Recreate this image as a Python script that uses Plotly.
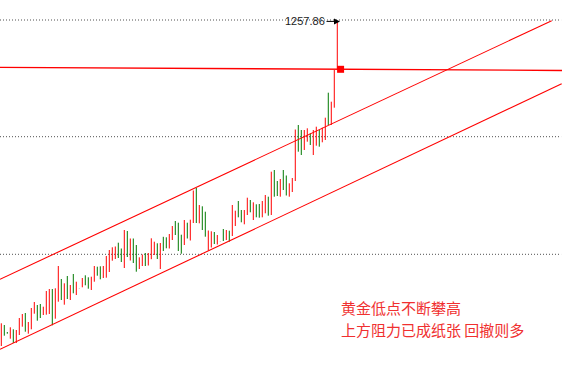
import plotly.graph_objects as go

# ---- data (gold price bars, high / low / bar colour) ----
highs = [1227.67, 1227.50, 1226.80, 1227.27, 1227.07, 1227.00, 1228.20, 1228.60, 1228.70, 1227.80,
         1229.20, 1229.80, 1229.50, 1229.60, 1229.33, 1230.90, 1231.10, 1231.10, 1231.17, 1233.40,
         1232.10, 1231.67, 1232.40, 1231.50, 1232.60, 1231.83, 1231.20, 1232.20, 1232.47, 1232.27,
         1232.33, 1233.40, 1233.33, 1233.37, 1233.40, 1234.40, 1235.00, 1235.27, 1235.35, 1235.73,
         1235.15, 1237.00, 1236.90, 1236.15, 1236.15, 1235.50, 1234.27, 1234.55, 1234.70, 1234.70,
         1236.17, 1235.83, 1235.67, 1235.70, 1236.32, 1236.27, 1236.60, 1237.40, 1237.90, 1237.73,
         1236.53, 1238.00, 1237.73, 1238.03, 1240.95, 1241.20, 1239.50, 1239.37, 1238.83, 1236.95,
         1236.87, 1236.80, 1236.50, 1235.87, 1237.10, 1237.00, 1236.93, 1239.50, 1238.93, 1239.90,
         1239.00, 1239.00, 1240.23, 1240.00, 1239.77, 1239.57, 1239.60, 1239.90, 1240.50, 1240.33,
         1242.83, 1243.00, 1241.90, 1242.10, 1243.00, 1242.45, 1241.67, 1242.20, 1247.05, 1247.50,
         1247.00, 1247.00, 1247.17, 1246.67, 1247.00, 1247.33, 1247.00, 1247.23, 1248.23, 1250.73,
         1249.83, 1253.00, 1257.86]
lows = [1225.40, 1226.43, 1226.63, 1226.13, 1225.70, 1225.70, 1226.50, 1227.33, 1226.83, 1226.63,
        1227.07, 1228.63, 1227.93, 1228.20, 1228.50, 1228.53, 1228.60, 1227.47, 1228.13, 1229.83,
        1230.00, 1229.53, 1230.10, 1230.00, 1230.67, 1230.50, 1231.14, 1231.27, 1231.47, 1231.13,
        1231.00, 1231.83, 1232.43, 1232.07, 1232.20, 1232.23, 1232.80, 1233.93, 1234.10, 1234.20,
        1233.80, 1233.20, 1234.30, 1233.95, 1233.70, 1232.83, 1233.10, 1233.40, 1233.40, 1233.45,
        1234.08, 1234.50, 1234.10, 1233.10, 1234.90, 1235.17, 1235.15, 1236.00, 1236.50, 1234.90,
        1234.63, 1235.50, 1236.15, 1235.95, 1237.70, 1237.70, 1237.67, 1237.00, 1236.33, 1234.95,
        1235.25, 1235.60, 1235.55, 1235.80, 1235.90, 1236.00, 1235.83, 1236.40, 1237.40, 1238.27,
        1237.77, 1237.57, 1238.50, 1238.77, 1238.00, 1238.27, 1238.23, 1238.27, 1238.67, 1238.43,
        1238.50, 1240.33, 1240.40, 1240.33, 1241.00, 1240.45, 1240.33, 1240.80, 1241.90, 1244.83,
        1244.50, 1245.00, 1245.83, 1245.50, 1244.50, 1245.43, 1245.33, 1245.77, 1246.00, 1247.50,
        1247.50, 1249.23, 1253.00]
colors = list("RGGRGRRRGR" "RRGGRRRGRR" "GRGRGRNRGG" "RRGGRRRRRG" "GRGRGGRRGR"
              "RRGRGGRRGG" "GRGRRGRGGR" "RGRNGRGRRG" "GRRGRGGRRG" "RGGRGGRRRG"
              "GRRGRRGRRG" "RRR")

last_price = 1253.07
peak_label = "1257.86"
grid_levels = [1258.0, 1246.33, 1234.57]
resistance = [1253.27, 1252.95]
upper_channel = [1232.07, 1257.93]
lower_channel = [1225.07, 1251.62]
note_lines = ["黄金低点不断攀高", "上方阻力已成纸张 回撤则多"]

RED = "#ff0000"
GREEN = "#007800"
GRAY = "#b0b0b0"
x_left = -0.433
x_right = 190.57

fig = go.Figure()

# dotted horizontal levels
for lv in grid_levels:
    fig.add_trace(go.Scatter(x=[x_left, 186.6], y=[lv, lv], mode="lines",
                             line=dict(color="#505050", width=1, dash="1px,2px"),
                             hoverinfo="skip", showlegend=False))

# bars
col_map = {"R": RED, "G": GREEN, "N": GRAY}
for code, c in col_map.items():
    xs, ys = [], []
    for i, (h, l, k) in enumerate(zip(highs, lows, colors)):
        if k == code:
            xs += [i, i, None]
            ys += [h, l, None]
    fig.add_trace(go.Scatter(x=xs, y=ys, mode="lines", line=dict(color=c, width=1),
                             hoverinfo="skip", showlegend=False))

# resistance line
fig.add_trace(go.Scatter(x=[x_left, 186.9], y=resistance, mode="lines",
                         line=dict(color=RED, width=1.3), hoverinfo="skip", showlegend=False))
# channel
fig.add_trace(go.Scatter(x=[x_left, 183.47], y=upper_channel, mode="lines",
                         line=dict(color=RED, width=1.1), hoverinfo="skip", showlegend=False))
fig.add_trace(go.Scatter(x=[x_left, 186.8], y=lower_channel, mode="lines",
                         line=dict(color=RED, width=1.1), hoverinfo="skip", showlegend=False))

# current price marker
n = len(highs)
fig.add_trace(go.Scatter(x=[n + 0.1], y=[last_price], mode="markers",
                         marker=dict(symbol="square", size=7, color=RED, line=dict(width=0)),
                         hoverinfo="skip", showlegend=False))

# peak label with arrow
fig.add_annotation(x=n - 1 + 0.9, y=highs[-1], xref="x", yref="y",
                   text=peak_label, showarrow=True, ax=-35, ay=0,
                   arrowhead=2, arrowsize=1.2, arrowwidth=1, arrowcolor="#000000",
                   font=dict(family="Liberation Sans, Arial", size=11, color="#1a1a1a"))

# Chinese note, one annotation per line
for txt, yp in zip(note_lines, [307.5, 329.5]):
    fig.add_annotation(x=340 / 573, y=1 - yp / 375, xref="paper", yref="paper",
                       text=txt, showarrow=False, xanchor="left", yanchor="middle",
                       borderpad=0,
                       font=dict(family="Noto Sans CJK SC", size=15, color="#f03030"))

fig.update_layout(
    width=573, height=375,
    margin=dict(l=0, r=0, t=0, b=0),
    paper_bgcolor="white", plot_bgcolor="white",
    xaxis=dict(visible=False, range=[x_left, x_right]),
    yaxis=dict(visible=False, range=[1222.5, 1260.0]),
    showlegend=False,
)

fig.write_html("out.html", config={"displayModeBar": False},
               post_script="document.body.style.margin='0';")
